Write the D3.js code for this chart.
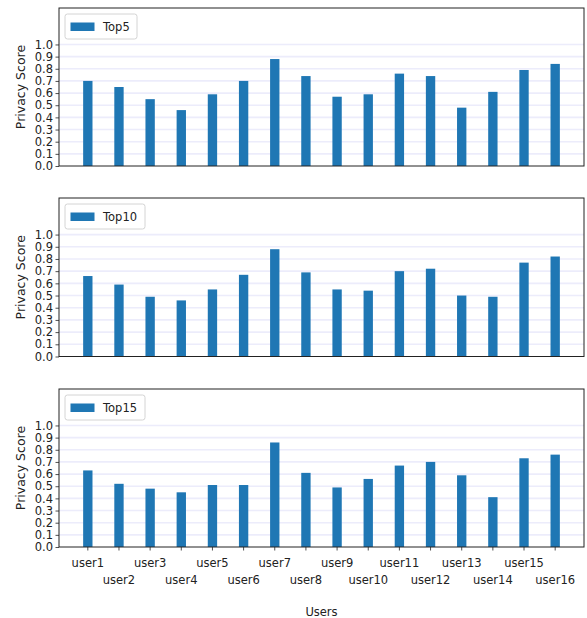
<!DOCTYPE html>
<html>
<head>
<meta charset="utf-8">
<script src="https://cdn.jsdelivr.net/npm/d3@7"></script>
<style>
  html, body { margin: 0; padding: 0; background: #fff; }
  svg { display: block; font-family: "DejaVu Sans", sans-serif; }
</style>
</head>
<body>
<svg id="chart" width="587" height="618"></svg>
<script>
// Users on the shared x axis
const users = ["user1","user2","user3","user4","user5","user6","user7","user8",
               "user9","user10","user11","user12","user13","user14","user15","user16"];

// Privacy score per user for each recommendation depth
const top5  = [0.70, 0.65, 0.55, 0.46, 0.59, 0.70, 0.88, 0.74, 0.57, 0.59, 0.76, 0.74, 0.48, 0.61, 0.79, 0.84];
const top10 = [0.66, 0.59, 0.49, 0.46, 0.55, 0.67, 0.88, 0.69, 0.55, 0.54, 0.70, 0.72, 0.50, 0.49, 0.77, 0.82];
const top15 = [0.63, 0.52, 0.48, 0.45, 0.51, 0.51, 0.86, 0.61, 0.49, 0.56, 0.67, 0.70, 0.59, 0.41, 0.73, 0.76];

const seriesNames = ["Top5", "Top10", "Top15"];
const yTicks = [0.0, 0.1, 0.2, 0.3, 0.4, 0.5, 0.6, 0.7, 0.8, 0.9, 1.0];

const panels = [
  { name: seriesNames[0], values: top5,  top: 8,   bottom: 166 },
  { name: seriesNames[1], values: top10, top: 198, bottom: 356.5 },
  { name: seriesNames[2], values: top15, top: 389, bottom: 547 }
];

const left = 59, right = 584;
const barColor = "#1f77b4";
const barWidth = 0.3;

const svg = d3.select("#chart");

const x = d3.scaleLinear().domain([-0.925, 15.925]).range([left, right]);

panels.forEach((p, pi) => {
  const y = d3.scaleLinear().domain([0, 1.3]).range([p.bottom, p.top]);
  const g = svg.append("g");

  // faint horizontal grid
  g.append("g").selectAll("line")
    .data(yTicks.slice(1))
    .join("line")
    .attr("x1", left).attr("x2", right)
    .attr("y1", d => y(d)).attr("y2", d => y(d))
    .attr("stroke", "#ececfb")
    .attr("stroke-width", 1.6);

  // bars
  g.append("g").selectAll("rect")
    .data(p.values)
    .join("rect")
    .attr("x", (d, i) => x(i - barWidth / 2))
    .attr("width", x(barWidth) - x(0))
    .attr("y", d => y(d))
    .attr("height", d => p.bottom - y(d))
    .attr("fill", barColor);

  // y axis
  const yAxis = d3.axisLeft(y).tickValues(yTicks).tickFormat(d3.format(".1f")).tickSize(3.5).tickPadding(2.5);
  const ya = g.append("g").attr("transform", `translate(${left},0)`).call(yAxis);
  ya.select(".domain").remove();
  ya.selectAll(".tick line").attr("stroke", "#222").attr("stroke-width", 0.8);
  ya.selectAll(".tick text").attr("font-size", 11.5).attr("fill", "#222")
    .attr("font-family", "DejaVu Sans");

  // frame
  g.append("rect")
    .attr("x", left).attr("y", p.top)
    .attr("width", right - left).attr("height", p.bottom - p.top)
    .attr("fill", "none").attr("stroke", "#222").attr("stroke-width", 1);

  // y label
  g.append("text")
    .attr("transform", `translate(25,${(p.top + p.bottom) / 2}) rotate(-90)`)
    .attr("text-anchor", "middle")
    .attr("font-size", 12.5)
    .attr("fill", "#222")
    .text("Privacy Score");

  // legend
  const lg = g.append("g").attr("transform", `translate(65,${p.top + 6})`);
  lg.append("rect")
    .attr("width", p.name.length > 4 ? 80 : 72).attr("height", 25)
    .attr("rx", 2.5)
    .attr("fill", "#fff").attr("stroke", "#d4d4d4").attr("stroke-width", 1);
  lg.append("rect")
    .attr("x", 5.5).attr("y", 8.5).attr("width", 24).attr("height", 8.5)
    .attr("fill", barColor);
  lg.append("text")
    .attr("x", 38).attr("y", 16.8)
    .attr("font-size", 11.5).attr("fill", "#222")
    .text(p.name);

  // x ticks on the bottom panel only
  if (pi === panels.length - 1) {
    const xa = g.append("g").attr("transform", `translate(0,${p.bottom})`);
    xa.selectAll("line")
      .data(users)
      .join("line")
      .attr("x1", (d, i) => x(i)).attr("x2", (d, i) => x(i))
      .attr("y1", 0).attr("y2", 3.5)
      .attr("stroke", "#222").attr("stroke-width", 0.8);
    xa.selectAll("text")
      .data(users)
      .join("text")
      .attr("x", (d, i) => x(i))
      .attr("y", (d, i) => i % 2 === 0 ? 20 : 36.5)
      .attr("text-anchor", "middle")
      .attr("font-size", 11.5).attr("fill", "#222")
      .text(d => d);

    svg.append("text")
      .attr("x", (left + right) / 2)
      .attr("y", 616)
      .attr("text-anchor", "middle")
      .attr("font-size", 11.5).attr("fill", "#222")
      .text("Users");
  }
});
</script>
</body>
</html>
